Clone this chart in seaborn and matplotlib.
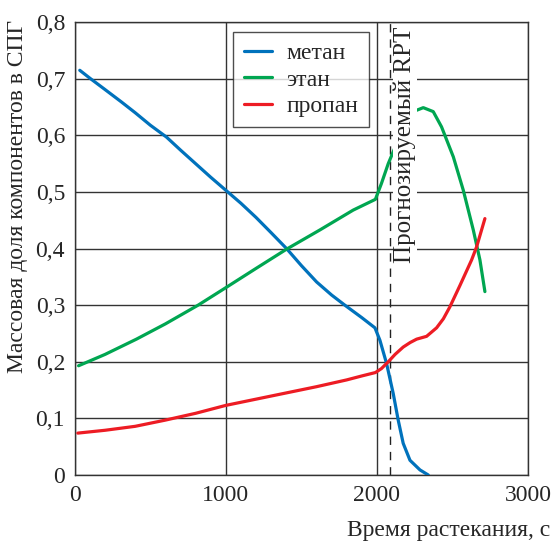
"""
Mass fractions of LNG components vs spreading time.
"""

import pandas as pd
import matplotlib.pyplot as plt
import seaborn as sns

# Data
methane_t = [33, 100, 200, 309, 400, 500, 607, 700, 800, 900, 1000, 1100, 1200, 1300,
             1402, 1500, 1601, 1700, 1788, 1900, 1987, 2020, 2064, 2108, 2141, 2174,
             2219, 2285, 2340]
methane_y = [0.715, 0.701, 0.681, 0.659, 0.640, 0.618, 0.597, 0.574, 0.550, 0.526,
             0.503, 0.480, 0.455, 0.428, 0.400, 0.370, 0.341, 0.318, 0.300, 0.278,
             0.260, 0.238, 0.197, 0.144, 0.097, 0.056, 0.026, 0.009, 0.0]

ethane_t = [25, 200, 408, 600, 816, 1000, 1200, 1402, 1623, 1843, 1990, 2030, 2075,
            2141, 2200, 2240, 2307, 2373, 2428, 2506, 2572, 2638, 2682, 2715]
ethane_y = [0.193, 0.213, 0.240, 0.267, 0.300, 0.331, 0.365, 0.399, 0.433, 0.468,
            0.487, 0.515, 0.550, 0.592, 0.625, 0.642, 0.649, 0.642, 0.615, 0.562,
            0.503, 0.433, 0.380, 0.324]

propane_t = [20, 200, 400, 600, 800, 1000, 1200, 1400, 1600, 1800, 1900, 1990, 2030,
             2075, 2120, 2174, 2220, 2263, 2329, 2395, 2440, 2483, 2550, 2627, 2660, 2715]
propane_y = [0.074, 0.079, 0.086, 0.097, 0.109, 0.123, 0.134, 0.145, 0.156, 0.168,
             0.175, 0.181, 0.188, 0.200, 0.213, 0.226, 0.234, 0.240, 0.245, 0.260,
             0.276, 0.297, 0.335, 0.380, 0.403, 0.453]

series_names = ["метан", "этан", "пропан"]
series_colors = ["#0072bc", "#00a651", "#ed1c24"]
rpt_time = 2085

x_ticks = [0, 1000, 2000, 3000]
y_ticks = [0, 0.1, 0.2, 0.3, 0.4, 0.5, 0.6, 0.7, 0.8]
y_tick_labels = ["0", "0,1", "0,2", "0,3", "0,4", "0,5", "0,6", "0,7", "0,8"]


def build_frame():
    parts = []
    for name, t, y in zip(series_names,
                          [methane_t, ethane_t, propane_t],
                          [methane_y, ethane_y, propane_y]):
        parts.append(pd.DataFrame({"t": t, "y": y, "comp": name}))
    return pd.concat(parts, ignore_index=True)


sns.set_style("white")
plt.rcParams["font.family"] = ["Liberation Serif", "DejaVu Serif"]
plt.rcParams["font.size"] = 17

df = build_frame()

fig = plt.figure(figsize=(5.54, 5.41), dpi=100)
ax = fig.add_axes([0.135, 0.122, 0.818, 0.837])

for name, color in zip(series_names, series_colors):
    sub = df[df["comp"] == name]
    sns.lineplot(data=sub, x="t", y="y", ax=ax, color=color, linewidth=2.3,
                 label=name, sort=False, estimator=None, zorder=3)

ax.axvline(rpt_time, color="#222222", linestyle=(0, (6, 5)), linewidth=1.0, zorder=2)
ax.text(2185, 0.583, "Прогнозируемый RPT", rotation=90, ha="center", va="center",
        fontsize=18, zorder=4,
        bbox=dict(facecolor="white", edgecolor="none", pad=0.3))

ax.set_xlim(0, 3000)
ax.set_ylim(0, 0.8)
ax.set_xticks(x_ticks)
ax.set_yticks(y_ticks)
ax.set_yticklabels(y_tick_labels)
ax.tick_params(length=0, labelsize=17, pad=7)
ax.grid(True, color="#333333", linewidth=1.0)
ax.set_axisbelow(True)
for s in ax.spines.values():
    s.set_color("#333333")
    s.set_linewidth(1.0)

ax.set_ylabel("Массовая доля компонентов в СПГ", fontsize=17)
ax.yaxis.set_label_coords(-0.104, 0.615)
ax.set_xlabel("Время растекания, с", fontsize=17, loc="right")
ax.xaxis.set_label_coords(1.05, -0.1)

leg = ax.legend(loc="upper left", bbox_to_anchor=(0.349, 0.978), fontsize=17,
                frameon=True, fancybox=False, edgecolor="#222222",
                handlelength=1.2, labelspacing=0.2, borderpad=0.45,
                handletextpad=0.6, borderaxespad=0.0)
leg.get_frame().set_linewidth(1.0)

plt.savefig("out.png", dpi=100)
